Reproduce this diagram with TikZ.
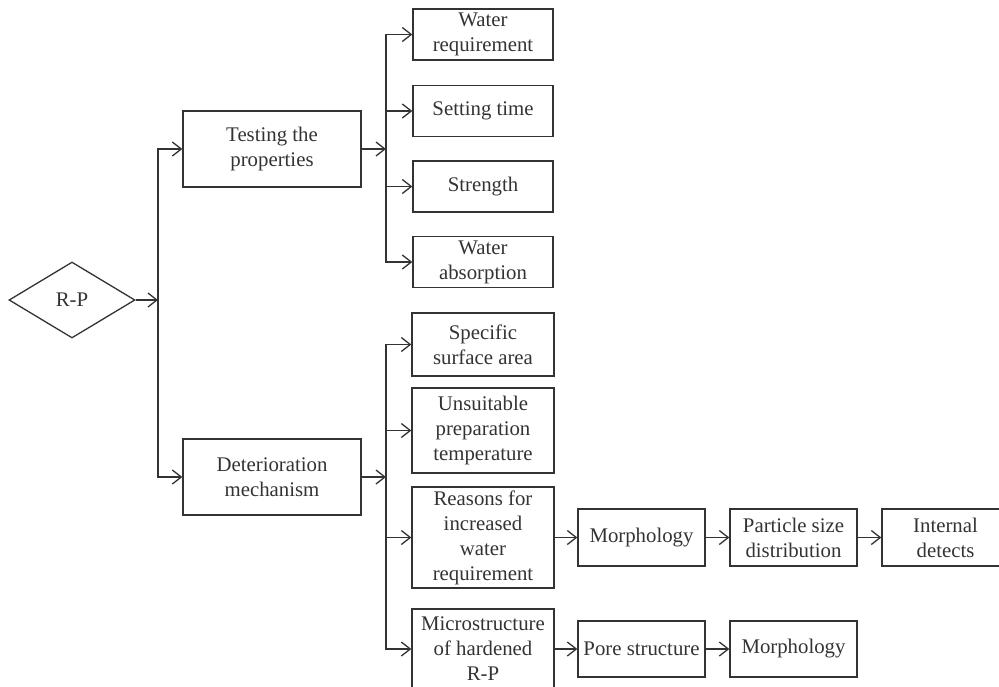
\documentclass[tikz,border=0pt]{standalone}
\usepackage{fontspec}
\setmainfont{Liberation Serif}
\usepackage{tikz}
\usetikzlibrary{
    arrows.meta,
    positioning,
    shapes.geometric
}
\definecolor{linegray}{RGB}{51,51,51}
\tikzset{
    box/.style={draw=linegray, line width=0.65pt, align=center,
                inner sep=1pt, text=linegray,
                font=\fontsize{10.4}{12.5}\selectfont},
    arr/.style={draw=linegray, line width=0.65pt,
                -{Straight Barb[length=4.5pt,width=7pt]}},
}

\begin{document}
\begin{tikzpicture}[x=0.5pt, y=-0.5pt]
    \useasboundingbox (0,0) rectangle (999,686);

    %% Nodes
        \node[box, diamond, minimum width=63pt, minimum height=38pt]
              (rp) at (72,300) {R-P};
        \node[box, minimum width=89pt, minimum height=38pt]
              (test) at (272,149) {Testing the\\properties};
        \node[box, minimum width=89pt, minimum height=38pt]
              (det) at (272,477) {Deterioration\\mechanism};

        \node[box, minimum width=70pt, minimum height=25.5pt]
              (water) at (483,34.5) {Water\\requirement};
        \node[box, minimum width=70pt, minimum height=25.5pt]
              (setting) at (483,111) {Setting time};
        \node[box, minimum width=70pt, minimum height=25.5pt]
              (strength) at (483,186.5) {Strength};
        \node[box, minimum width=70pt, minimum height=25.5pt]
              (absorb) at (483,262) {Water\\absorption};

        \node[box, minimum width=71pt, minimum height=31.5pt]
              (specific) at (483,344.5) {Specific\\surface area};
        \node[box, minimum width=71pt, minimum height=42.5pt]
              (unsuitable) at (483,430.5) {Unsuitable\\preparation\\temperature};
        \node[box, minimum width=71pt, minimum height=50.5pt]
              (reasons) at (483,537.5) {Reasons for\\increased\\water\\requirement};
        \node[box, minimum width=71pt, minimum height=40pt]
              (micro) at (483,649) {Microstructure\\of hardened\\R-P};

        \node[box, minimum width=63.5pt, minimum height=28.5pt]
              (morph1) at (641.5,537.5) {Morphology};
        \node[box, minimum width=63.5pt, minimum height=28.5pt]
              (particle) at (793.5,537.5) {Particle size\\distribution};
        \node[box, minimum width=63.5pt, minimum height=28.5pt]
              (internal) at (945.5,537.5) {Internal\\detects};
        \node[box, minimum width=63.5pt, minimum height=28pt]
              (pore) at (641.5,649) {Pore structure};
        \node[box, minimum width=63.5pt, minimum height=28pt]
              (morph2) at (793.5,649) {Morphology};

    %% Junctions
        \coordinate (j1) at (158,300);
        \coordinate (j2) at (386,149);
        \coordinate (j3) at (386,477);

    %% Edges
        \draw[arr] (rp) -- (j1);
        \draw[arr] (j1) |- (test);
        \draw[arr] (j1) |- (det);
        \draw[arr] (test) -- (j2);
        \foreach \n in {water,setting,strength,absorb}
            \draw[arr] (j2) |- (\n);
        \draw[arr] (det) -- (j3);
        \foreach \n in {specific,unsuitable,reasons,micro}
            \draw[arr] (j3) |- (\n);
        \draw[arr] (reasons) -- (morph1);
        \draw[arr] (morph1) -- (particle);
        \draw[arr] (particle) -- (internal);
        \draw[arr] (micro) -- (pore);
        \draw[arr] (pore) -- (morph2);
\end{tikzpicture}
\end{document}
